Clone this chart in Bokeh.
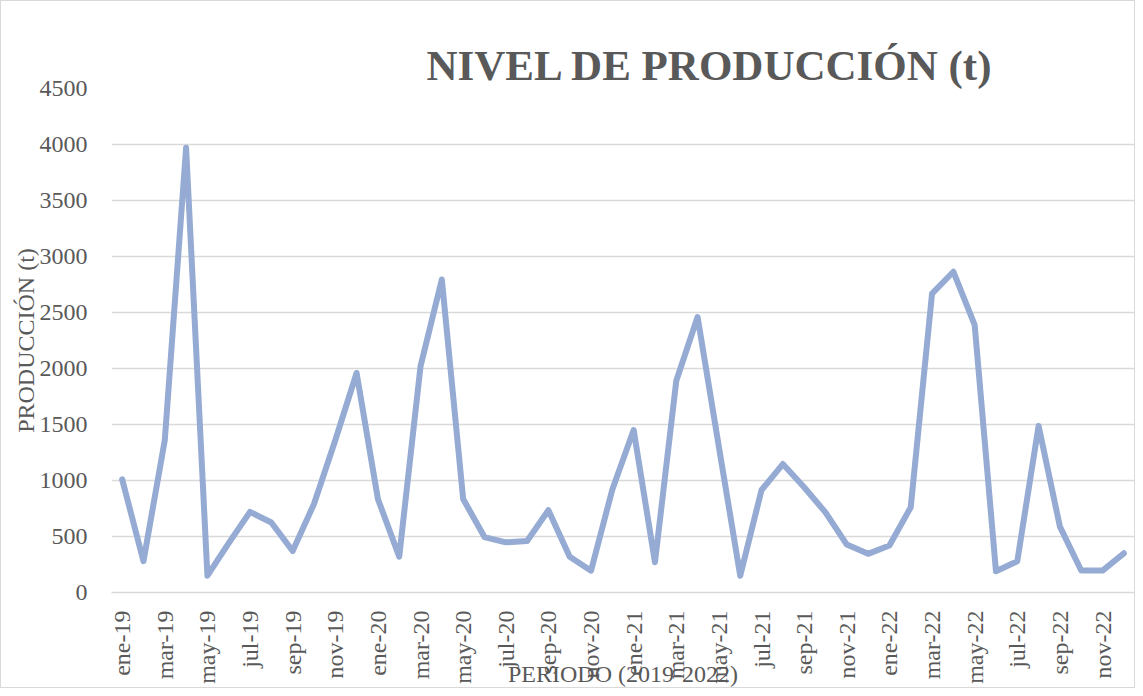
import math
from bokeh.plotting import figure
from bokeh.models import FixedTicker, ColumnDataSource, Range1d
from bokeh.embed import file_html
from bokeh.resources import INLINE

months = [
    "ene-19", "feb-19", "mar-19", "abr-19", "may-19", "jun-19", "jul-19", "ago-19", "sep-19", "oct-19", "nov-19", "dic-19",
    "ene-20", "feb-20", "mar-20", "abr-20", "may-20", "jun-20", "jul-20", "ago-20", "sep-20", "oct-20", "nov-20", "dic-20",
    "ene-21", "feb-21", "mar-21", "abr-21", "may-21", "jun-21", "jul-21", "ago-21", "sep-21", "oct-21", "nov-21", "dic-21",
    "ene-22", "feb-22", "mar-22", "abr-22", "may-22", "jun-22", "jul-22", "ago-22", "sep-22", "oct-22", "nov-22", "dic-22",
]
produccion = [
    1010, 280, 1360, 3970, 150, 440, 720, 625, 370, 790, 1360, 1960,
    835, 320, 2020, 2795, 835, 495, 448, 460, 735, 320, 195, 920,
    1450, 270, 1890, 2460, 1300, 150, 915, 1147, 940, 715, 428, 345,
    420, 760, 2668, 2864, 2390, 190, 279, 1488, 588, 196, 196, 350,
]
y_ticks = [0, 500, 1000, 1500, 2000, 2500, 3000, 3500, 4000, 4500]
title_text = "NIVEL DE PRODUCCIÓN (t)"
x_title = "PERIODO (2019-2022)"
y_title = "PRODUCCIÓN (t)"

FONT = "Liberation Serif"
TXT = "#595959"

idx = list(range(len(months)))
src = ColumnDataSource(dict(x=idx, y=produccion))

p = figure(width=1135, height=688, output_backend="svg", toolbar_location=None,
           x_range=Range1d(-0.5, len(months) - 0.5), y_range=Range1d(0, 4500),
           min_border_left=110, min_border_right=2, min_border_top=87, min_border_bottom=95)
p.outline_line_color = None
p.background_fill_color = "white"
p.border_fill_color = "white"
p.styles = {"border": "1px solid #d9d9d9"}

p.title.text = title_text
p.title.text_font = FONT
p.title.text_font_size = "43px"
p.title.text_font_style = "bold"
p.title.text_color = TXT
p.title.align = "left"
p.title.offset = 315
p.title.standoff = 0

p.line("x", "y", source=src, line_color="#95abd3", line_width=6,
       line_join="round", line_cap="round")

p.xgrid.grid_line_color = None
p.ygrid.grid_line_color = "#d9d9d9"
p.ygrid.grid_line_width = 1.3
p.ygrid.ticker = FixedTicker(ticks=y_ticks)

p.yaxis.ticker = FixedTicker(ticks=y_ticks)
p.yaxis.axis_line_color = None
p.yaxis.major_tick_line_color = None
p.yaxis.minor_tick_line_color = None
p.yaxis.major_label_text_font = FONT
p.yaxis.major_label_text_font_size = "24px"
p.yaxis.major_label_text_color = TXT
p.yaxis.major_label_standoff = 18
p.yaxis.axis_label = y_title
p.yaxis.axis_label_text_font = FONT
p.yaxis.axis_label_text_font_size = "24px"
p.yaxis.axis_label_text_font_style = "normal"
p.yaxis.axis_label_text_color = TXT
p.yaxis.axis_label_standoff = -2

p.xaxis.ticker = FixedTicker(ticks=idx[::2])
p.xaxis.major_label_overrides = {i: months[i] for i in idx[::2]}
p.xaxis.major_label_orientation = math.pi / 2
p.xaxis.axis_line_color = "#d9d9d9"
p.xaxis.axis_line_width = 1.3
p.xaxis.major_tick_line_color = None
p.xaxis.minor_tick_line_color = None
p.xaxis.major_label_text_font = FONT
p.xaxis.major_label_text_font_size = "24px"
p.xaxis.major_label_text_color = TXT
p.xaxis.major_label_standoff = 12
p.xaxis.axis_label = x_title
p.xaxis.axis_label_text_font = FONT
p.xaxis.axis_label_text_font_size = "24px"
p.xaxis.axis_label_text_font_style = "normal"
p.xaxis.axis_label_text_color = TXT
p.xaxis.axis_label_standoff = -26

open("out.html", "w").write(file_html(p, INLINE))
